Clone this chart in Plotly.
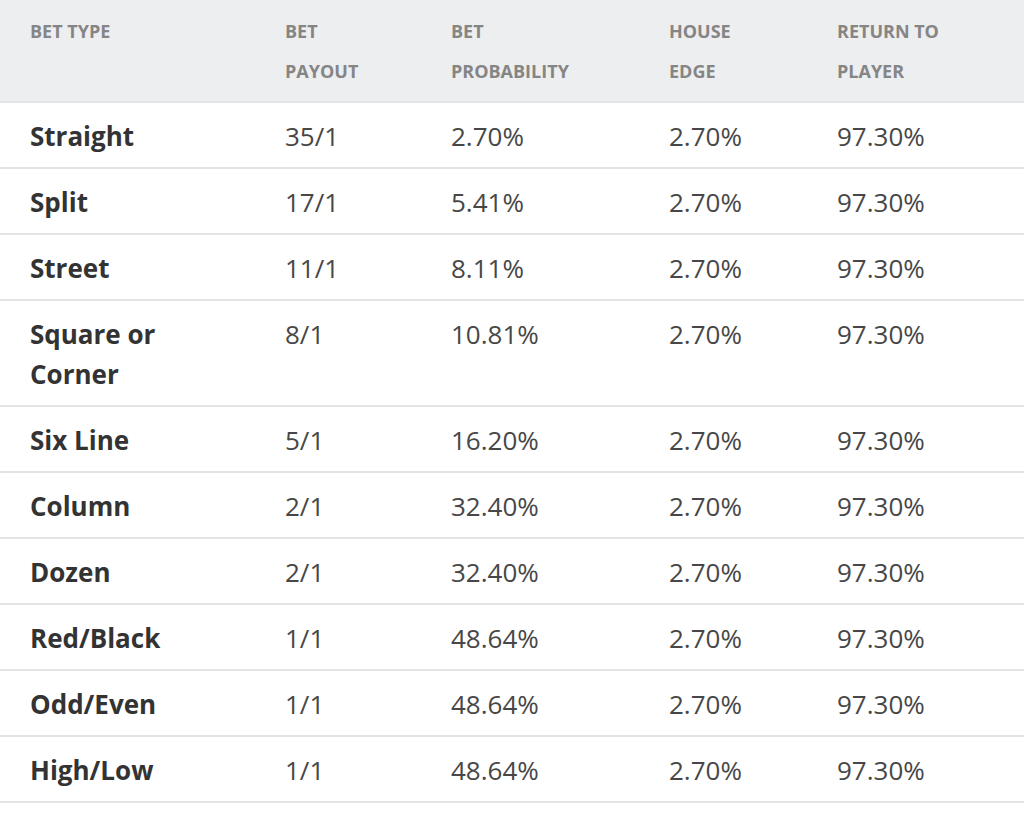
import plotly.graph_objects as go

BG = "#ffffff"
HEADER_BG = "#edeef0"
RULE = "#e4e4e4"
HEAD_TXT = "#858585"
BODY_TXT = "#474747"
NAME_TXT = "#333333"
FONT = "Open Sans, sans-serif"

headers = ["BET TYPE", "BET<br>PAYOUT", "BET<br>PROBABILITY", "HOUSE<br>EDGE", "RETURN TO<br>PLAYER"]
bet_types = ["Straight", "Split", "Street", "Square or<br>Corner", "Six Line",
             "Column", "Dozen", "Red/Black", "Odd/Even", "High/Low"]
payouts = ["35/1", "17/1", "11/1", "8/1", "5/1", "2/1", "2/1", "1/1", "1/1", "1/1"]
probabilities = ["2.70%", "5.41%", "8.11%", "10.81%", "16.20%",
                 "32.40%", "32.40%", "48.64%", "48.64%", "48.64%"]
house_edge = ["2.70%"] * 10
return_to_player = ["97.30%"] * 10

# layout (pixels)
W, H = 1024, 819
COL_X = [30, 285, 451, 669, 837]
LINE_H = 40
HEAD_TOP, HEAD_H = 33, 102
ROW_TOP, ROW_BASE = 37, 26

columns = [bet_types, payouts, probabilities, house_edge, return_to_player]
rows = list(zip(*columns))

fig = go.Figure()

# header text
for j, h in enumerate(headers):
    lines = h.split("<br>")
    fig.add_trace(go.Scatter(
        x=[COL_X[j]] * len(lines),
        y=[HEAD_TOP + LINE_H * k for k in range(len(lines))],
        text=lines, mode="text", textposition="middle right",
        textfont=dict(family=FONT, size=18, color=HEAD_TXT, weight="bold"),
        hoverinfo="skip", showlegend=False))

# body
bounds = [HEAD_H]
xs = [[] for _ in columns]
ys = [[] for _ in columns]
ts = [[] for _ in columns]
top = HEAD_H
for row in rows:
    n = max(c.count("<br>") + 1 for c in row)
    for j, cell in enumerate(row):
        for k, part in enumerate(cell.split("<br>")):
            xs[j].append(COL_X[j])
            ys[j].append(top + ROW_TOP + LINE_H * k)
            ts[j].append(part)
    top += ROW_BASE + LINE_H * n
    bounds.append(top)

for j in range(len(columns)):
    fig.add_trace(go.Scatter(
        x=xs[j], y=ys[j], text=ts[j], mode="text", textposition="middle right",
        textfont=dict(family=FONT, size=26,
                      color=NAME_TXT if j == 0 else BODY_TXT,
                      weight="bold" if j == 0 else "normal"),
        hoverinfo="skip", showlegend=False))

fig.add_shape(type="rect", xref="paper", yref="y", x0=0, x1=1, y0=0, y1=HEAD_H,
              fillcolor=HEADER_BG, line_width=0, layer="below")
for b in bounds:
    fig.add_hline(y=b, line_color=RULE, line_width=2, layer="below")

fig.update_layout(
    width=W, height=H, margin=dict(l=0, r=0, t=0, b=0),
    paper_bgcolor=BG, plot_bgcolor=BG,
    xaxis=dict(range=[0, W], visible=False, fixedrange=True),
    yaxis=dict(range=[H, 0], visible=False, fixedrange=True),
)

fig.write_html("out.html", config={"displayModeBar": False},
               post_script="document.body.style.margin='0';")
